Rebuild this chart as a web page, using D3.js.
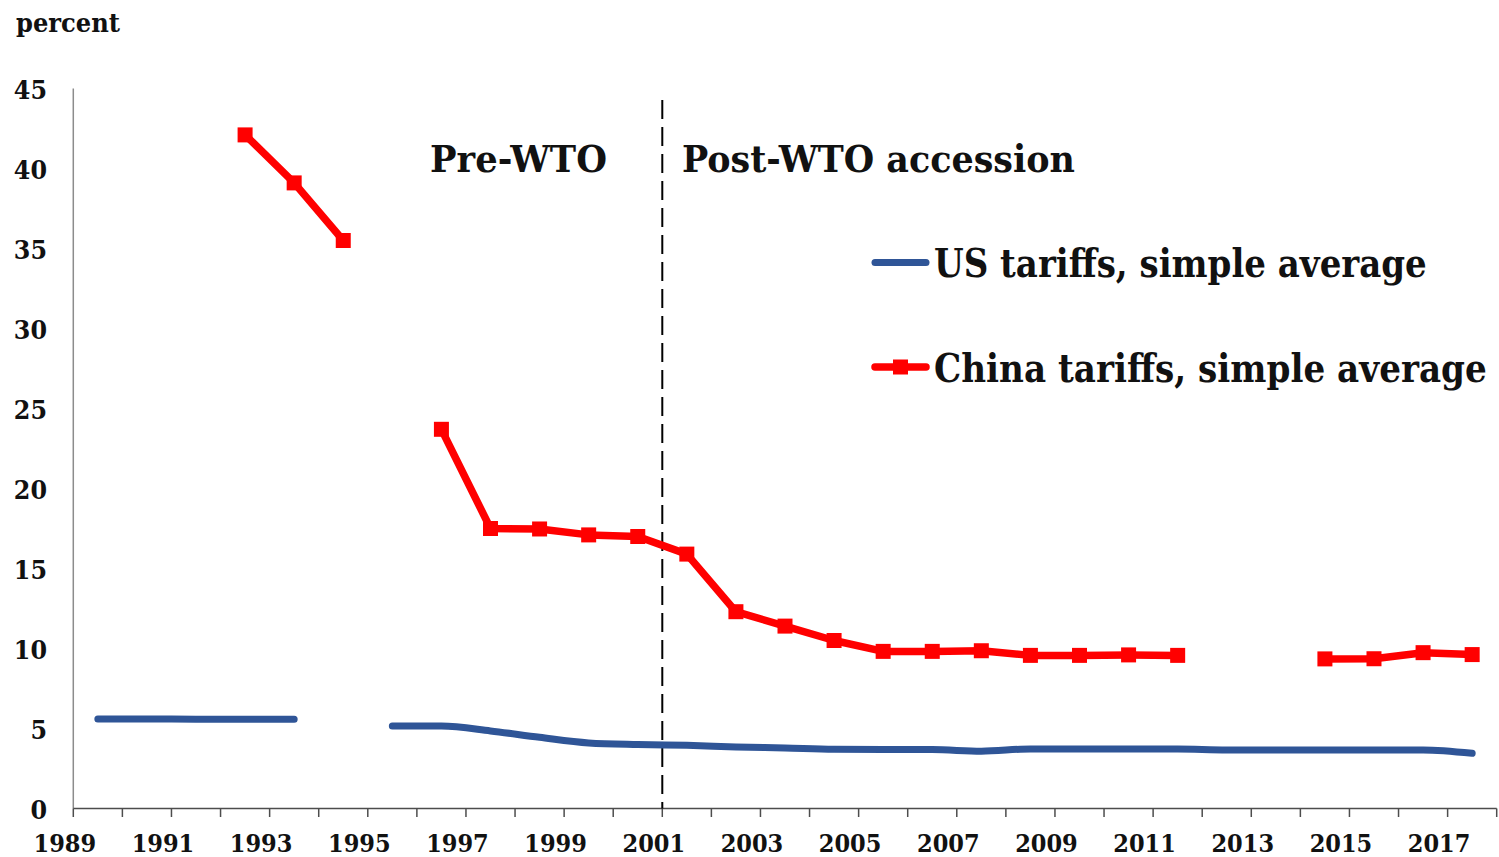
<!DOCTYPE html>
<html>
<head>
<meta charset="utf-8">
<script src="https://cdn.jsdelivr.net/npm/d3@7/dist/d3.min.js"></script>
<style>
  html, body { margin: 0; padding: 0; background: #fff; }
  text { font-family: "DejaVu Serif Condensed", "DejaVu Serif", serif; font-stretch: condensed; font-weight: bold; fill: #111; }
</style>
</head>
<body>
<svg id="chart" width="1499" height="857"></svg>
<script>
// ---- Data ----
const years = d3.range(1989, 2018);
const usTariffs = [5.6, 5.6, 5.58, 5.58, 5.58, null, 5.15, 5.15, 4.85, 4.45, 4.1, 4.0, 3.95, 3.85, 3.78, 3.7, 3.68, 3.68, 3.58, 3.72, 3.72, 3.72, 3.72, 3.66, 3.66, 3.66, 3.66, 3.66, 3.45];
const chinaTariffs = [null, null, null, 42.1, 39.1, 35.5, null, 23.7, 17.5, 17.47, 17.1, 17.0, 15.9, 12.3, 11.4, 10.5, 9.82, 9.82, 9.86, 9.57, 9.57, 9.6, 9.57, null, null, 9.35, 9.36, 9.74, 9.62];
const yTicks = [0, 5, 10, 15, 20, 25, 30, 35, 40, 45];
const xLabelYears = years.filter(y => y % 2 === 1);
const seriesNames = ["US tariffs, simple average", "China tariffs, simple average"];
const periodLabels = ["Pre-WTO", "Post-WTO accession"];
const wtoYear = 2001;

const usColor = "#2f5597";
const cnColor = "#ff0000";

const svg = d3.select("#chart");

const x = d3.scaleBand().domain(years).range([73.3, 1496.7]).paddingInner(0).paddingOuter(0);
const y = d3.scaleLinear().domain([0, 45]).range([808.5, 88.5]);
const cx = yr => x(yr) + x.bandwidth() / 2;

// helper: text fitted horizontally to a target width via scale transform
function fittedText(txt, tx, ty, size, width) {
  const t = svg.append("text").attr("font-size", size).text(txt);
  const natural = t.node().getComputedTextLength();
  const sx = width / natural;
  t.attr("transform", `translate(${tx},${ty}) scale(${sx},1)`);
  return t;
}

// y axis line
svg.append("line")
  .attr("x1", x.range()[0]).attr("x2", x.range()[0])
  .attr("y1", y(45)).attr("y2", y(0))
  .attr("stroke", "#8c8c8c").attr("stroke-width", 1.5);

// y tick labels
svg.append("g").selectAll("text").data(yTicks).join("text")
  .attr("x", 47).attr("y", d => y(d) + 10)
  .attr("text-anchor", "end")
  .attr("font-size", 26.5)
  .text(d => d);

// x axis line & ticks
svg.append("line")
  .attr("x1", x.range()[0]).attr("x2", x.range()[1])
  .attr("y1", y(0)).attr("y2", y(0))
  .attr("stroke", "#4d4d4d").attr("stroke-width", 1.5);
const tickPos = years.map(yr => x(yr)).concat([x.range()[1]]);
svg.append("g").selectAll("line").data(tickPos).join("line")
  .attr("x1", d => d).attr("x2", d => d)
  .attr("y1", y(0)).attr("y2", y(0) + 8.5)
  .attr("stroke", "#4d4d4d").attr("stroke-width", 1.5);

// x tick labels
svg.append("g").selectAll("text").data(xLabelYears).join("text")
  .attr("x", d => x(d) - 8.5).attr("y", 851.5)
  .attr("text-anchor", "middle")
  .attr("font-size", 25)
  .text(d => d);

// "percent"
fittedText("percent", 16, 31.5, 26, 104);

// WTO dashed line
svg.append("line")
  .attr("x1", x(wtoYear)).attr("x2", x(wtoYear))
  .attr("y1", 100).attr("y2", y(0))
  .attr("stroke", "#000").attr("stroke-width", 2)
  .attr("stroke-dasharray", "19,8");

// period labels
fittedText(periodLabels[0], 430, 172, 37, 177);
fittedText(periodLabels[1], 682, 172, 37, 393);

// lines
const usData = years.map((yr, i) => ({yr, v: usTariffs[i]}));
const cnData = years.map((yr, i) => ({yr, v: chinaTariffs[i]}));

const lineGen = d3.line()
  .defined(d => d.v !== null)
  .x(d => cx(d.yr)).y(d => y(d.v));

svg.append("path").datum(usData)
  .attr("d", lineGen.curve(d3.curveMonotoneX))
  .attr("fill", "none").attr("stroke", usColor).attr("stroke-width", 7)
  .attr("stroke-linecap", "round").attr("stroke-linejoin", "round");

svg.append("path").datum(cnData)
  .attr("d", lineGen.curve(d3.curveLinear))
  .attr("fill", "none").attr("stroke", cnColor).attr("stroke-width", 7.5)
  .attr("stroke-linecap", "round").attr("stroke-linejoin", "round");

svg.append("g").selectAll("rect").data(cnData.filter(d => d.v !== null)).join("rect")
  .attr("x", d => cx(d.yr) - 7.5).attr("y", d => y(d.v) - 7.5)
  .attr("width", 15).attr("height", 15)
  .attr("fill", cnColor);

// legend
const lg = svg.append("g");
lg.append("line").attr("x1", 875).attr("x2", 926).attr("y1", 262.5).attr("y2", 262.5)
  .attr("stroke", usColor).attr("stroke-width", 7).attr("stroke-linecap", "round");
lg.append("line").attr("x1", 875).attr("x2", 926).attr("y1", 367).attr("y2", 367)
  .attr("stroke", cnColor).attr("stroke-width", 7.5).attr("stroke-linecap", "round");
lg.append("rect").attr("x", 900.5 - 7.5).attr("y", 367 - 7.5).attr("width", 15).attr("height", 15).attr("fill", cnColor);
fittedText(seriesNames[0], 934, 277, 39, 493);
fittedText(seriesNames[1], 934, 382, 39, 553);
</script>
</body>
</html>
